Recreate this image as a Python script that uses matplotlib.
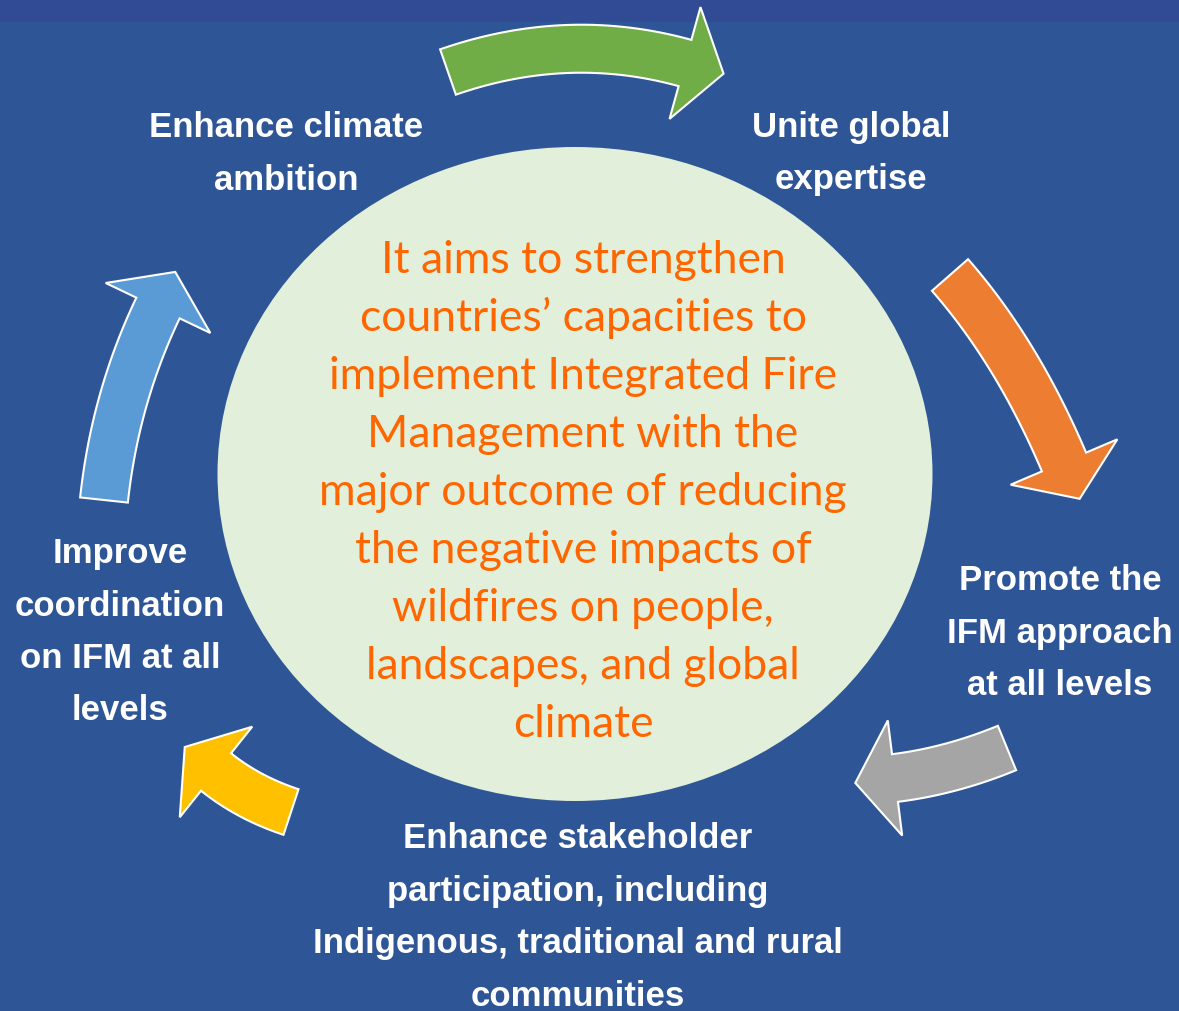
import numpy as np
import matplotlib.pyplot as plt
from matplotlib.patches import Polygon, Ellipse, Rectangle

W, H = 1179, 1011

# colours
top_band = '#314B94'
background = '#2E5596'
circle_fill = '#E2EFDA'
center_color = '#FF6600'

# centre text
center_lines = ['It aims to strengthen',
                'countries\u2019 capacities to',
                'implement Integrated Fire',
                'Management with the',
                'major outcome of reducing',
                'the negative impacts of',
                'wildfires on people,',
                'landscapes, and global',
                'climate']

# outer labels
labels = [['Enhance climate', 'ambition'],
          ['Unite global', 'expertise'],
          ['Promote the', 'IFM approach', 'at all levels'],
          ['Enhance stakeholder', 'participation, including',
           'Indigenous, traditional and rural', 'communities'],
          ['Improve', 'coordination', 'on IFM at all', 'levels']]
label_x = [286, 851, 1060, 578, 120]
label_y0 = [137, 137, 590, 848, 563]

# arrows: tail middle, middle of the body, start of the head
arrow_colors = ['#70AD47', '#ED7D31', '#A5A5A5', '#FFC000', '#5B9BD5']
arrow_tail = [(448, 72), (950, 275), (1007, 748), (291, 812), (104, 500)]
arrow_mid = [(567, 49), (1012, 360), (951, 767), (251, 795), (123, 401)]
arrow_base = [(685, 63), (1064, 462), (895, 778), (216, 772), (158, 308)]


def curved_arrow(ax, p0, m, p2, color, width=48, head_half=58, head_len=40):
    p0, m, p2 = np.array(p0, float), np.array(m, float), np.array(p2, float)
    c = 2 * m - (p0 + p2) / 2
    t = np.linspace(0, 1, 60)[:, None]
    pts = (1 - t) ** 2 * p0 + 2 * t * (1 - t) * c + t ** 2 * p2
    tan = 2 * (1 - t) * (c - p0) + 2 * t * (p2 - c)
    tan = tan / np.linalg.norm(tan, axis=1)[:, None]
    nrm = np.column_stack([-tan[:, 1], tan[:, 0]])
    left = pts + nrm * width / 2
    right = pts - nrm * width / 2
    tip = p2 + tan[-1] * head_len
    poly = np.vstack([left,
                      p2 + nrm[-1] * head_half,
                      tip,
                      p2 - nrm[-1] * head_half,
                      right[::-1]])
    ax.add_patch(Polygon(poly, closed=True, facecolor=color,
                         edgecolor='white', linewidth=1.5, joinstyle='miter', zorder=3))


fig = plt.figure(figsize=(W / 100, H / 100), dpi=100)
ax = fig.add_axes([0, 0, 1, 1])
ax.set_xlim(0, W)
ax.set_ylim(H, 0)
ax.axis('off')

ax.add_patch(Rectangle((0, 0), W, H, facecolor=background, zorder=0))
ax.add_patch(Rectangle((0, 0), W, 22, facecolor=top_band, zorder=1))
ax.add_patch(Ellipse((575, 474), 715, 654, facecolor=circle_fill, edgecolor='none', zorder=2))

for i in range(len(arrow_colors)):
    curved_arrow(ax, arrow_tail[i], arrow_mid[i], arrow_base[i], arrow_colors[i])

# centre text
for i, line in enumerate(center_lines):
    ax.text(583, 273 + i * 58, line, ha='center', va='baseline',
            fontsize=32, color=center_color, family='Lato', zorder=5)

for lines, x, y0 in zip(labels, label_x, label_y0):
    for j, line in enumerate(lines):
        ax.text(x, y0 + j * 52.5, line, ha='center', va='baseline',
                fontsize=25, color='white', fontweight='bold',
                family='Liberation Sans', zorder=5)

fig.savefig('out.png', dpi=100)
